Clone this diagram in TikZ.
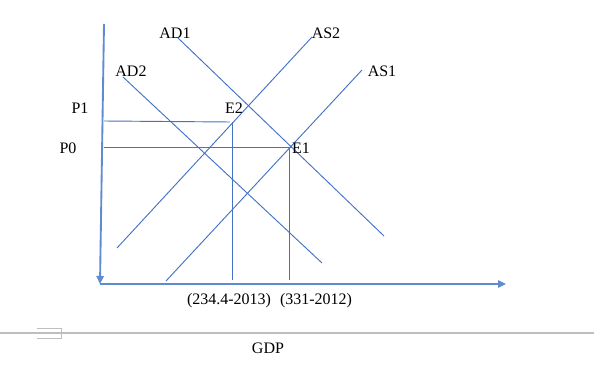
\documentclass[tikz,border=0pt]{standalone}
\usepackage{fontspec}
\setmainfont{Liberation Serif}
\usetikzlibrary{arrows.meta}
\definecolor{lineblue}{RGB}{68,114,196}
\definecolor{axisblue}{RGB}{95,139,210}
\definecolor{pagegray}{RGB}{190,190,190}
\tikzset{
  curve/.style={draw=lineblue, line width=0.7pt},
  guide/.style={draw=lineblue, line width=0.7pt},
  axis/.style={draw=axisblue, line width=1.4pt, -{Triangle[length=6pt,width=5.5pt]}},
  lbl/.style={font=\fontsize{12}{14}\selectfont, inner sep=0pt},
  pageline/.style={draw=pagegray, line width=0.8pt}
}
\begin{document}
\begin{tikzpicture}[x=0.75pt,y=-0.75pt]
\useasboundingbox (0,0) rectangle (594,374);
% axes
\coordinate (ytop) at (104,24);
\coordinate (origin) at (100,284);
\coordinate (xend) at (506,284);
\draw[axis] (ytop) -- (origin);
\draw[axis] (origin) -- (xend);
% curves
\coordinate (ad1a) at (178,38);  \coordinate (ad1b) at (384,236);
\coordinate (ad2a) at (123,77);  \coordinate (ad2b) at (322,263);
\coordinate (as2a) at (312,37);  \coordinate (as2b) at (117,248);
\coordinate (as1a) at (362,70);  \coordinate (as1b) at (166,281);
\draw[curve] (ad1a) -- (ad1b);
\draw[curve] (ad2a) -- (ad2b);
\draw[curve] (as2a) -- (as2b);
\draw[curve] (as1a) -- (as1b);
% guides
\coordinate (p1l) at (104,121); \coordinate (p1r) at (230,122);
\coordinate (p0l) at (104,147); \coordinate (p0r) at (292,147);
\coordinate (e2t) at (232,122); \coordinate (e2b) at (232,280);
\coordinate (e1t) at (289,147); \coordinate (e1b) at (289,280);
\draw[guide] (p1l) -- (p1r);
\draw[guide] (p0l) -- (p0r);
\draw[guide] (e2t) -- (e2b);
\draw[guide] (e1t) -- (e1b);
% labels
\node[lbl] (AD1) at (175,33) {AD1};
\node[lbl] (AD2) at (131,71) {AD2};
\node[lbl] (AS2) at (326,33) {AS2};
\node[lbl] (AS1) at (382,71) {AS1};
\node[lbl] (P1) at (80,108) {P1};
\node[lbl] (P0) at (68,148) {P0};
\node[lbl] (E2) at (234,108) {E2};
\node[lbl] (E1) at (301,148) {E1};
\node[lbl] (q2) at (229,301) {(234.4-2013)};
\node[lbl] (q1) at (316,301) {(331-2012)};
\node[lbl] (GDP) at (268,348) {GDP};
% page break artifact
\draw[pageline] (0,333) -- (594,333);
\draw[pageline, line width=0.6pt] (37,328) -- (61,328) -- (61,338) -- (37,338);
\end{tikzpicture}
\end{document}
